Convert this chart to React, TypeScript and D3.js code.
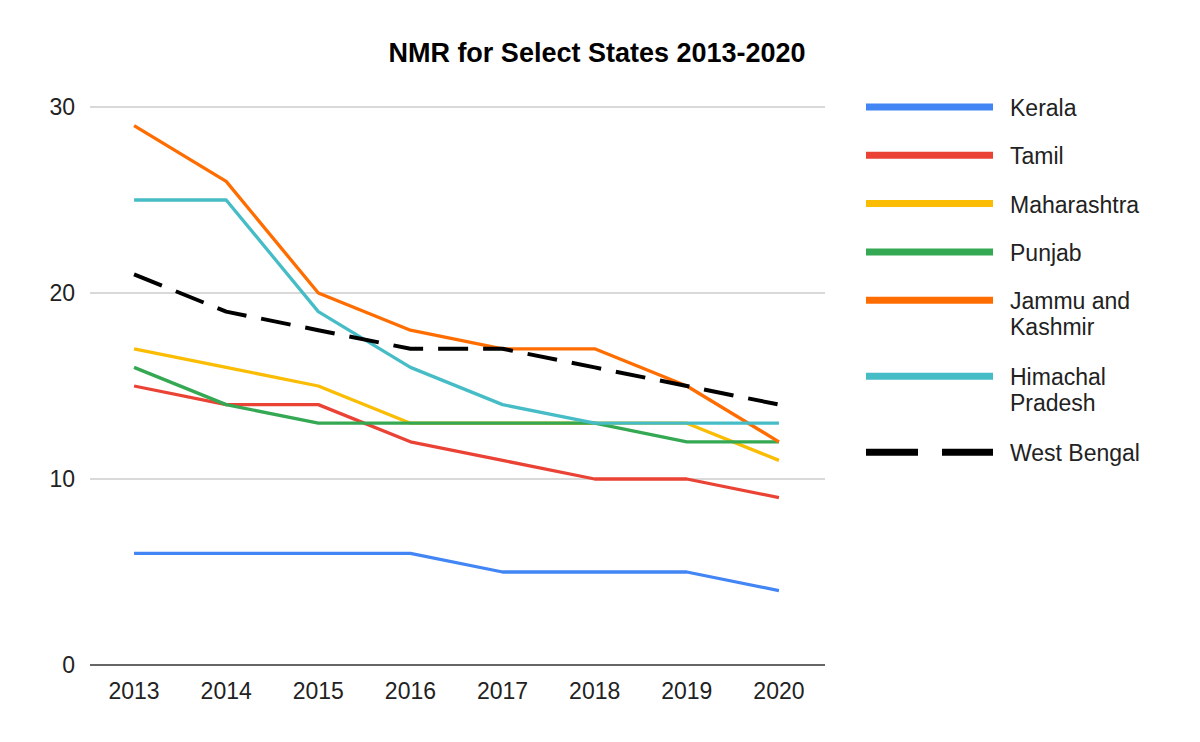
import { useMemo } from "react";
import * as d3 from "d3";

const WIDTH = 1200;
const HEIGHT = 742;
const PLOT = { left: 88, right: 825, top: 107, bottom: 665 };

const years = ["2013", "2014", "2015", "2016", "2017", "2018", "2019", "2020"];
const yTicks = [0, 10, 20, 30];

const kerala = [6, 6, 6, 6, 5, 5, 5, 4];
const tamil = [15, 14, 14, 12, 11, 10, 10, 9];
const maharashtra = [17, 16, 15, 13, 13, 13, 13, 11];
const punjab = [16, 14, 13, 13, 13, 13, 12, 12];
const jammuKashmir = [29, 26, 20, 18, 17, 17, 15, 12];
const himachal = [25, 25, 19, 16, 14, 13, 13, 13];
const westBengal = [21, 19, 18, 17, 17, 16, 15, 14];

type Series = {
  name: string[];
  values: number[];
  color: string;
  dashed?: boolean;
};

const series: Series[] = [
  { name: ["Kerala"], values: kerala, color: "#4285f4" },
  { name: ["Tamil"], values: tamil, color: "#ea4335" },
  { name: ["Maharashtra"], values: maharashtra, color: "#fbbc04" },
  { name: ["Punjab"], values: punjab, color: "#34a853" },
  { name: ["Jammu and", "Kashmir"], values: jammuKashmir, color: "#ff6d01" },
  { name: ["Himachal", "Pradesh"], values: himachal, color: "#46bdc6" },
  { name: ["West Bengal"], values: westBengal, color: "#000000", dashed: true },
];

const FONT = "'Liberation Sans', Arial, sans-serif";

export default function App() {
  const xScale = useMemo(
    () => d3.scalePoint<string>().domain(years).range([PLOT.left, PLOT.right]).padding(0.5),
    []
  );
  const yScale = useMemo(
    () => d3.scaleLinear().domain([0, 30]).range([PLOT.bottom, PLOT.top]),
    []
  );

  const lineGen = d3
    .line<number>()
    .x((_, i) => xScale(years[i]) ?? 0)
    .y((d) => yScale(d));

  // legend rows: two-line labels take more room
  let legendY = 107;
  const legendRows = series.map((s) => {
    const row = { s, y: legendY };
    legendY += s.name.length > 1 ? 76 : 48.3;
    return row;
  });

  return (
    <div style={{ position: "absolute", left: 0, top: 0 }}>
      <svg width={WIDTH} height={HEIGHT} style={{ display: "block", background: "#fff" }} fontFamily={FONT}>
        <text x={597} y={62} textAnchor="middle" fontSize={27} fontWeight="bold" fill="#000">
          NMR for Select States 2013-2020
        </text>

        {/* grid + y labels */}
        {yTicks.map((t) => (
          <g key={t}>
            {t !== 0 && (
              <line x1={90} x2={PLOT.right} y1={yScale(t)} y2={yScale(t)} stroke="#cccccc" strokeWidth={1.5} />
            )}
            <text x={75} y={yScale(t) + 8} textAnchor="end" fontSize={23} fill="#222">
              {t}
            </text>
          </g>
        ))}

        {/* x labels */}
        {years.map((yr) => (
          <text key={yr} x={xScale(yr)} y={699} textAnchor="middle" fontSize={23} fill="#222">
            {yr}
          </text>
        ))}

        {/* lines */}
        {series.map((s, i) => (
          <path
            key={i}
            d={lineGen(s.values) ?? ""}
            fill="none"
            stroke={s.color}
            strokeWidth={s.dashed ? 4 : 3.3}
            strokeDasharray={s.dashed ? "30 15" : undefined}
            strokeLinejoin="round"
          />
        ))}

        {/* baseline */}
        <line x1={90} x2={PLOT.right} y1={yScale(0)} y2={yScale(0)} stroke="#333" strokeWidth={1.5} />

        {/* legend */}
        {legendRows.map(({ s, y }, i) => (
          <g key={i}>
            <line
              x1={866}
              x2={993}
              y1={y}
              y2={y}
              stroke={s.color}
              strokeWidth={7}
              strokeDasharray={s.dashed ? "52 24" : undefined}
            />
            {s.name.map((n, j) => (
              <text key={j} x={1010} y={y + 9 + j * 26} fontSize={23} fill="#222">
                {n}
              </text>
            ))}
          </g>
        ))}
      </svg>
    </div>
  );
}
